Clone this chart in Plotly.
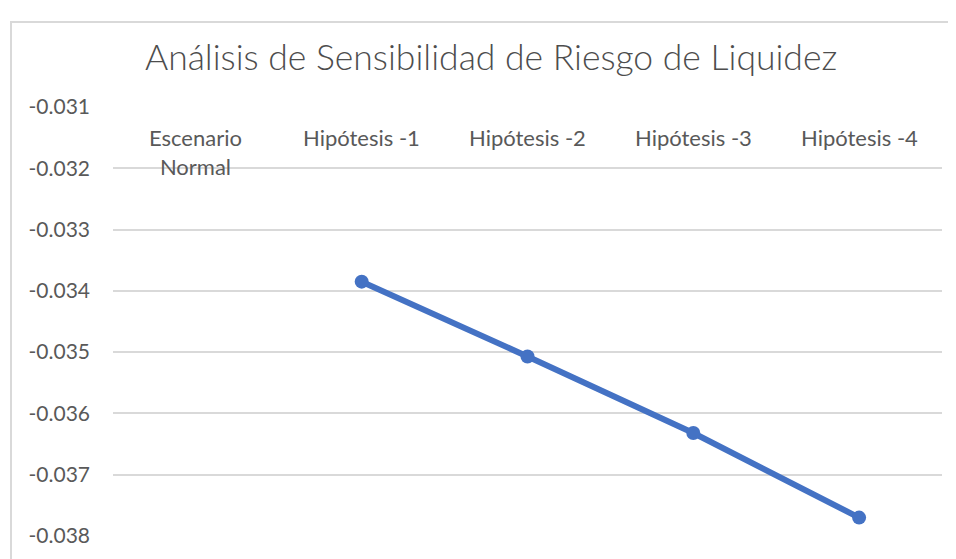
import plotly.graph_objects as go

categories = ["Escenario<br>Normal", "Hipótesis -1", "Hipótesis -2", "Hipótesis -3", "Hipótesis -4"]
values = [None, -0.03385, -0.03507, -0.03632, -0.0377]
tick_vals = [-0.031, -0.032, -0.033, -0.034, -0.035, -0.036, -0.037, -0.038]
tick_text = ["-0.031", "-0.032", "-0.033", "-0.034", "-0.035", "-0.036", "-0.037", "-0.038"]
title_text = "Análisis de Sensibilidad de Riesgo de Liquidez"

# page body has an 8px margin; compensate so plot area lands at the reference pixels
OFF = 8
W, H = 956 - OFF, 559 - OFF
L, R, T, B = 113 - OFF, 14, 107 - OFF, 23
pw, ph = W - L - R, H - T - B

def px_x(px):
    return (px - OFF - L) / pw

def px_y(py):
    return (559 - B - py) / ph

fig = go.Figure()
fig.add_trace(go.Scatter(
    x=list(range(len(categories))), y=values, mode="lines+markers",
    line=dict(color="#4472C4", width=6),
    marker=dict(color="#4472C4", size=14),
    connectgaps=False, showlegend=False, hoverinfo="skip",
))

for i, c in enumerate(categories):
    fig.add_annotation(x=i, xref="x", y=px_y(122), yref="paper", text=c,
                       showarrow=False, yanchor="top", xanchor="center",
                       font=dict(family="Lato", size=22, color="#595959"))

fig.add_annotation(x=px_x(491), xref="paper", y=px_y(57), yref="paper",
                   text=title_text, showarrow=False, xanchor="center", yanchor="middle",
                   font=dict(family="Lato", size=35.5, color="#4D4D4D", weight=300))

fig.add_shape(type="rect", xref="paper", yref="paper",
              x0=px_x(11), x1=px_x(970), y0=px_y(575), y1=px_y(22),
              line=dict(color="#D9D9D9", width=2), fillcolor="rgba(0,0,0,0)", layer="below")

fig.update_layout(
    width=W, height=H,
    margin=dict(l=L, r=R, t=T, b=B),
    paper_bgcolor="white", plot_bgcolor="white",
    xaxis=dict(range=[-0.5, 4.5], showticklabels=False, showgrid=False,
               zeroline=False, showline=False, ticks=""),
    yaxis=dict(range=[-0.038, -0.031], tickvals=tick_vals, ticktext=tick_text,
               showgrid=True, gridcolor="#D9D9D9", gridwidth=1.5,
               zeroline=False, showline=False, ticks="",
               ticklabelstandoff=22,
               tickfont=dict(family="Lato", size=21, color="#595959")),
)

fig.write_html("out.html")
